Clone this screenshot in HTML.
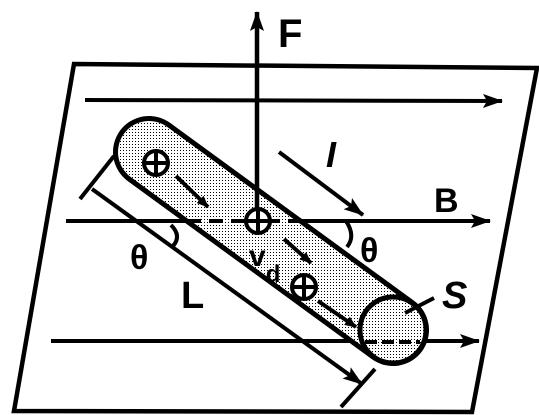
<!DOCTYPE html>
<html><head><meta charset="utf-8"><style>
html,body{margin:0;padding:0;background:#fff;width:539px;height:415px;overflow:hidden}
svg{display:block}
text{font-family:"Liberation Sans",sans-serif;fill:#000}
</style></head><body>
<svg width="539" height="415" viewBox="0 0 539 415">
<defs>
<pattern id="dots" width="3" height="3" patternUnits="userSpaceOnUse">
<rect width="3" height="3" fill="#fff"/><rect width="1" height="1" fill="#000"/>
</pattern>
<marker id="ah" markerWidth="12" markerHeight="10" refX="11" refY="5" orient="auto" markerUnits="userSpaceOnUse">
<path d="M0,0 L12,5 L0,10 Z" fill="#000"/></marker>
<marker id="ahb" markerWidth="20" markerHeight="14" refX="19" refY="7" orient="auto" markerUnits="userSpaceOnUse">
<path d="M0,0 L20,7 L0,14 L4,7 Z" fill="#000"/></marker>
</defs>
<polygon points="74,64 537,68 472,412 14,411" fill="none" stroke="#000" stroke-width="4.5"/>
<g stroke="#000" stroke-width="4" fill="none">
<line x1="85" y1="100" x2="502" y2="101" marker-end="url(#ahb)"/>
<line x1="66" y1="221" x2="490" y2="221" marker-end="url(#ahb)"/>
<line x1="51" y1="341" x2="479" y2="341" marker-end="url(#ahb)"/>
</g>
<g>
<line x1="149" y1="152" x2="393" y2="330" stroke="#000" stroke-width="72" stroke-linecap="round"/>
<line x1="149" y1="152" x2="393" y2="330" stroke="url(#dots)" stroke-width="62" stroke-linecap="round"/>
<line x1="187" y1="221" x2="250" y2="221" stroke="#000" stroke-width="4" stroke-dasharray="14,8"/>
<line x1="266" y1="221" x2="300" y2="221" stroke="#000" stroke-width="4" stroke-dasharray="14,8"/>
<circle cx="393" cy="330" r="33" fill="url(#dots)" stroke="#000" stroke-width="5"/>
<line x1="365" y1="342" x2="420" y2="342" stroke="#000" stroke-width="4" stroke-dasharray="12,5"/>
</g>
<line x1="257" y1="221" x2="257" y2="12" stroke="#000" stroke-width="4.5" marker-end="url(#ahb)"/>
<g stroke="#000" stroke-width="4" fill="#fff">
<circle cx="156" cy="163" r="12"/><line x1="144" y1="163" x2="168" y2="163"/><line x1="156" y1="151" x2="156" y2="175"/>
<circle cx="258" cy="221" r="12"/><line x1="246" y1="221" x2="270" y2="221"/><line x1="258" y1="209" x2="258" y2="233"/>
<circle cx="304" cy="287" r="12"/><line x1="292" y1="287" x2="316" y2="287"/><line x1="304" y1="275" x2="304" y2="299"/>
</g>
<g stroke="#000" stroke-width="4" fill="none">
<line x1="176" y1="176" x2="208" y2="207" marker-end="url(#ah)"/>
<line x1="284" y1="239" x2="311" y2="263" marker-end="url(#ah)"/>
<line x1="318" y1="301" x2="356" y2="327" marker-end="url(#ah)"/>
<line x1="279" y1="152" x2="363" y2="215" marker-end="url(#ahb)"/>
<path d="M346,221 Q356,236 347,247"/>
<path d="M171,225 Q182,236 173,246"/>
<line x1="92" y1="189" x2="362" y2="384" marker-end="url(#ahb)"/>
<line x1="80" y1="199" x2="114" y2="156"/>
<line x1="341" y1="407" x2="375" y2="369"/>
<line x1="434" y1="298" x2="405" y2="313"/>
</g>
<text x="278" y="47" font-size="40" font-weight="bold">F</text>
<text x="326" y="167" font-size="36" font-style="italic" font-weight="bold">I</text>
<text x="434" y="212" font-size="34" font-weight="bold">B</text>
<text x="360" y="262" font-size="34" font-weight="bold" font-family="Liberation Sans,sans-serif">θ</text>
<text x="130" y="269" font-size="34" font-weight="bold" font-family="Liberation Sans,sans-serif">θ</text>
<text x="249" y="266" font-size="30" font-weight="bold">v<tspan font-size="24" dy="16">d</tspan></text>
<text x="181" y="308" font-size="38" font-weight="bold">L</text>
<text x="442" y="308" font-size="38" font-style="italic" font-weight="bold">S</text>
</svg>
</body></html>
